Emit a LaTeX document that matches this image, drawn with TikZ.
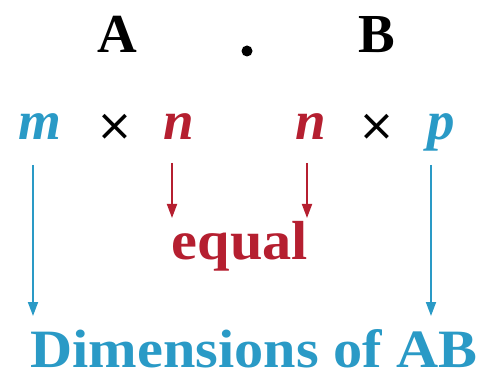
\documentclass[tikz,border=0pt]{standalone}
\usepackage{fontspec}
\setmainfont{Liberation Serif}
\newfontfamily\crossfont{DejaVu Sans}
\usetikzlibrary{arrows.meta}
\definecolor{dimblue}{HTML}{2A9AC6}
\definecolor{eqred}{HTML}{B51F30}
\tikzset{
  big/.style={inner sep=0pt, anchor=base, font=\fontsize{55}{60}\selectfont\bfseries},
  var/.style={inner sep=0pt, anchor=base, font=\fontsize{55}{60}\selectfont\bfseries\itshape},
  cross/.style={inner sep=0pt, anchor=center, font=\fontsize{44}{48}\selectfont\crossfont},
  barrow/.style={draw=dimblue, line width=1.8pt, -{Triangle[length=14pt,width=10pt]}},
  rarrow/.style={draw=eqred, line width=1.8pt, -{Triangle[length=14pt,width=10pt]}}
}
\begin{document}
\begin{tikzpicture}[x=1pt,y=1pt]
\useasboundingbox (0,0) rectangle (482,378);
% top row
\node[big] (A) at (117,325) {A};
\node[circle, fill=black, inner sep=0pt, minimum size=11pt] (dot) at (247,327) {};
\node[big] (B) at (377,325) {B};
% second row
\node[var, text=dimblue] (m) at (40,238) {m};
\node[cross] (x1) at (115,251) {×};
\node[var, text=eqred] (n1) at (179,238) {n};
\node[var, text=eqred] (n2) at (311,238) {n};
\node[cross] (x2) at (377,251) {×};
\node[var, text=dimblue] (p) at (441,238) {p};
% equal
\node[big, text=eqred, xscale=1.06] (eq) at (240,118) {equal};
% dimensions
\node[big, text=dimblue, font=\fontsize{54}{60}\selectfont\bfseries, xscale=1.08] (dim) at (254,11) {Dimensions of AB};
% arrow ends
\coordinate (mend) at (33,62);
\coordinate (pend) at (431,62);
\coordinate (n1end) at (172,160);
\coordinate (n2end) at (307,160);
\draw[barrow] ([yshift=-25pt]m.base -| mend) -- (mend);
\draw[barrow] ([yshift=-25pt]p.base -| pend) -- (pend);
\draw[rarrow] ([yshift=-23pt]n1.base -| n1end) -- (n1end);
\draw[rarrow] ([yshift=-23pt]n2.base -| n2end) -- (n2end);
\end{tikzpicture}
\end{document}
